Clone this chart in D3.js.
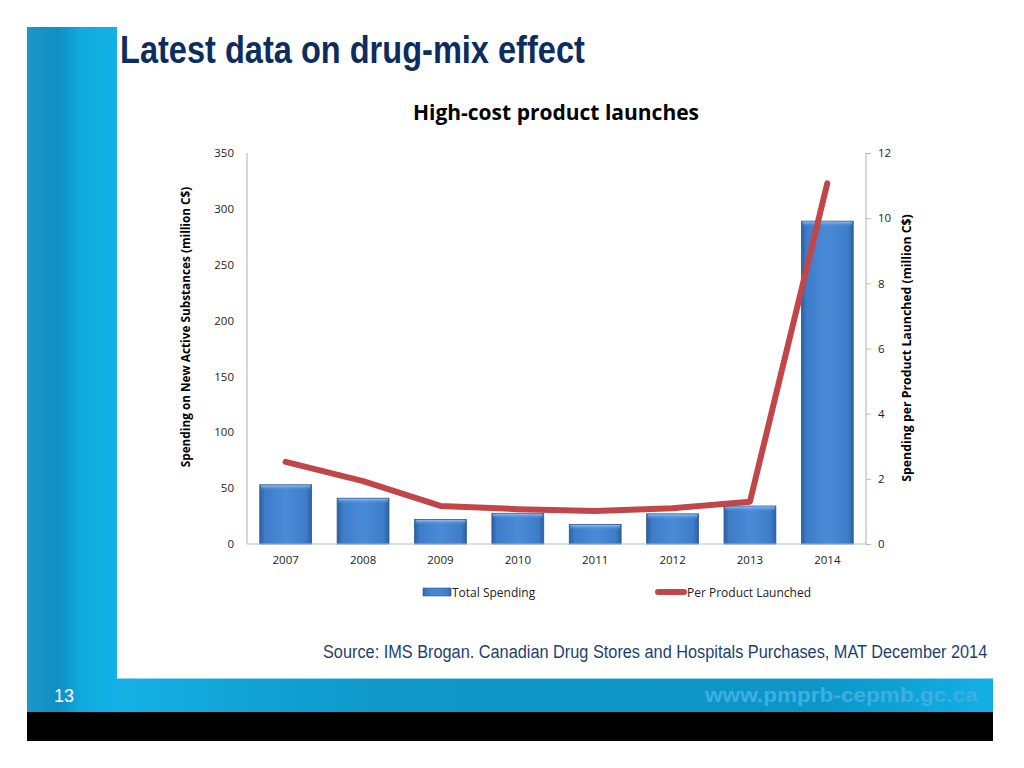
<!DOCTYPE html>
<html><head><meta charset="utf-8">
<script src="https://cdn.jsdelivr.net/npm/d3@7"></script>
<style>html,body{margin:0;padding:0;background:#fff;}svg{display:block;}</style>
</head><body>
<script>
const categories = ["2007","2008","2009","2010","2011","2012","2013","2014"];
const totalSpending = [53, 41, 22, 27.5, 17.5, 27, 34, 289];
const perProduct = [2.52, 1.93, 1.17, 1.07, 1.01, 1.1, 1.3, 11.07];
const leftTicks = [0,50,100,150,200,250,300,350];
const rightTicks = [0,2,4,6,8,10,12];

const W = 1024, H = 768;
const svg = d3.select("body").append("svg").attr("width", W).attr("height", H);
const defs = svg.append("defs");

const gBand = defs.append("linearGradient").attr("id","band").attr("x1","0").attr("x2","1").attr("y1","0").attr("y2","0");
gBand.append("stop").attr("offset","0").attr("stop-color","#1a98c8");
gBand.append("stop").attr("offset","0.35").attr("stop-color","#0f8fc2");
gBand.append("stop").attr("offset","0.6").attr("stop-color","#12a9dd");
gBand.append("stop").attr("offset","1").attr("stop-color","#11b2e6");

const gFoot = defs.append("linearGradient").attr("id","foot").attr("x1","0").attr("x2","1").attr("y1","0").attr("y2","0");
gFoot.append("stop").attr("offset","0").attr("stop-color","#14b0e4");
gFoot.append("stop").attr("offset","0.3").attr("stop-color","#0f97c9");
gFoot.append("stop").attr("offset","0.8").attr("stop-color","#0d95c8");
gFoot.append("stop").attr("offset","1").attr("stop-color","#12b0e4");

const gBar = defs.append("linearGradient").attr("id","bar").attr("x1","0").attr("x2","1").attr("y1","0").attr("y2","0");
gBar.append("stop").attr("offset","0").attr("stop-color","#2d609f");
gBar.append("stop").attr("offset","0.1").attr("stop-color","#3d7cc8");
gBar.append("stop").attr("offset","0.5").attr("stop-color","#4a8bd8");
gBar.append("stop").attr("offset","0.9").attr("stop-color","#3d7cc8");
gBar.append("stop").attr("offset","1").attr("stop-color","#2d609f");

const gBarTop = defs.append("linearGradient").attr("id","bartop").attr("x1","0").attr("x2","0").attr("y1","0").attr("y2","1");
gBarTop.append("stop").attr("offset","0").attr("stop-color","#9cc4f0").attr("stop-opacity",0.9);
gBarTop.append("stop").attr("offset","1").attr("stop-color","#4a8bd8").attr("stop-opacity",0);

const narrow = "'Liberation Sans','Arial',sans-serif";

// text condensed horizontally to a target width (mimics Arial Narrow)
function narrowText(str, x, y, size, weight, fill, targetW) {
  const t = svg.append("text").attr("x",0).attr("y",0).attr("fill",fill)
    .style("font-family",narrow).style("font-size",size+"px").style("font-weight",weight).text(str);
  const len = t.node().getComputedTextLength();
  const s = targetW / len;
  t.attr("transform",`translate(${x},${y}) scale(${s},1)`);
  return t;
}

// slide decorations
svg.append("rect").attr("x",27).attr("y",27).attr("width",90).attr("height",685).attr("fill","url(#band)");
svg.append("rect").attr("x",117).attr("y",678).attr("width",876).attr("height",34).attr("fill","url(#foot)");
svg.append("line").attr("x1",117).attr("x2",993).attr("y1",678.5).attr("y2",678.5).attr("stroke","#8fd6f2").attr("stroke-width",1);
svg.append("rect").attr("x",27).attr("y",712).attr("width",966).attr("height",29).attr("fill","#000");
narrowText("13", 54, 702, 19, "normal", "#fff", 20);
narrowText("www.pmprb-cepmb.gc.ca", 705, 702, 21, "bold", "#3cb0e0", 273);
narrowText("Latest data on drug-mix effect", 120, 63, 38, "bold", "#0d2d5e", 465);
narrowText("Source: IMS Brogan. Canadian Drug Stores and Hospitals Purchases, MAT December 2014", 323, 658, 19, "normal", "#1b3f73", 665);

// chart
const x0 = 247, x1 = 866, yTop = 153, yBot = 544;
const x = d3.scaleBand().domain(categories).range([x0, x1]).paddingInner(0.33).paddingOuter(0.165);
const yL = d3.scaleLinear().domain([0,350]).range([yBot, yTop]);
const yR = d3.scaleLinear().domain([0,12]).range([yBot, yTop]);
const font = "'Open Sans','Noto Sans',sans-serif";

svg.append("text").attr("x",556).attr("y",120).attr("text-anchor","middle").attr("fill","#000")
  .style("font-family",font).style("font-size","21px").style("font-weight","bold").text("High-cost product launches");

const bars = svg.append("g");
bars.selectAll("rect.b").data(categories).join("rect").attr("class","b")
  .attr("x", d => x(d)).attr("width", x.bandwidth())
  .attr("y", (d,i) => yL(totalSpending[i])).attr("height", (d,i) => yBot - yL(totalSpending[i]))
  .attr("fill","url(#bar)").attr("stroke","#2a5a94").attr("stroke-width",0.8);
bars.selectAll("rect.t").data(categories).join("rect").attr("class","t")
  .attr("x", d => x(d)+1).attr("width", x.bandwidth()-2)
  .attr("y", (d,i) => yL(totalSpending[i])+0.5).attr("height", 5)
  .attr("fill","url(#bartop)");

const axL = svg.append("g").attr("transform",`translate(${x0},0)`)
  .call(d3.axisLeft(yL).tickValues(leftTicks).tickSize(0).tickPadding(13));
const axR = svg.append("g").attr("transform",`translate(${x1},0)`)
  .call(d3.axisRight(yR).tickValues(rightTicks).tickSize(5).tickPadding(7));
const axB = svg.append("g").attr("transform",`translate(0,${yBot})`)
  .call(d3.axisBottom(x).tickSize(0).tickPadding(12));
[axL, axR, axB].forEach(a => {
  a.select(".domain").attr("stroke","#bcbcbc").attr("stroke-width",1.2);
  a.selectAll(".tick line").attr("stroke","#bcbcbc");
  a.selectAll("text").style("font-family",font).style("font-size","11.5px").attr("fill","#222");
});
axR.select(".domain").attr("d",`M0,${yTop}V${yBot}`);
axL.select(".domain").attr("d",`M0,${yTop}V${yBot}`);
axB.select(".domain").attr("d",`M${x0},0H${x1}`);

const line = d3.line().x((d,i) => x(categories[i]) + x.bandwidth()/2).y(d => yR(d));
svg.append("path").datum(perProduct).attr("d", line).attr("fill","none")
  .attr("stroke","#c0464a").attr("stroke-width",6).attr("stroke-linejoin","round").attr("stroke-linecap","round");

svg.append("text").attr("transform","translate(190,327) rotate(-90)").attr("text-anchor","middle")
  .style("font-family",font).style("font-size","11.8px").style("font-weight","bold").attr("fill","#000")
  .text("Spending on New Active Substances (million C$)");
svg.append("text").attr("transform","translate(911,348) rotate(-90)").attr("text-anchor","middle")
  .style("font-family",font).style("font-size","12.3px").style("font-weight","bold").attr("fill","#000")
  .text("Spending per Product Launched (million C$)");

const lg = svg.append("g");
lg.append("rect").attr("x",423).attr("y",588).attr("width",28).attr("height",8).attr("fill","url(#bar)").attr("stroke","#2a5a94").attr("stroke-width",0.6);
lg.append("text").attr("x",452).attr("y",596.5).style("font-family",font).style("font-size","12px").attr("fill","#222").text("Total Spending");
lg.append("line").attr("x1",658).attr("x2",684).attr("y1",592).attr("y2",592).attr("stroke","#c0464a").attr("stroke-width",6).attr("stroke-linecap","round");
lg.append("text").attr("x",687).attr("y",596.5).style("font-family",font).style("font-size","12px").attr("fill","#222").text("Per Product Launched");
</script>
</body></html>
